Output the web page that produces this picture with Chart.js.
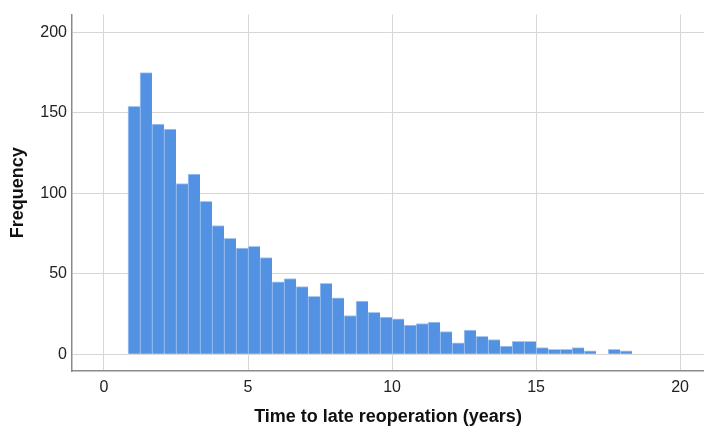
<!DOCTYPE html>
<html>
<head>
<meta charset="utf-8">
<script src="https://cdn.jsdelivr.net/npm/chart.js@4"></script>
<style>
  html, body { margin: 0; padding: 0; background: #fff; }
  #wrap { width: 704px; height: 426px; }
</style>
</head>
<body>
<div id="wrap"><canvas id="histChart" width="704" height="426"></canvas></div>
<script>
// histogram bins: first bin starts at 10 months, each bin is 5 months wide
const binStart = 10 / 12;
const binWidth = 5 / 12;
const frequency = [
    154, 175, 143, 140, 106, 112, 95, 80, 72, 66,
    67, 60, 45, 47, 42, 36, 44, 35, 24, 33,
    26, 23, 22, 18, 19, 20, 14, 7, 15, 11,
    9, 5, 8, 8, 4, 3, 3, 4, 2, 0,
    3, 2
];
const xTicks = [0, 5, 10, 15, 20];
const yTicks = [0, 50, 100, 150, 200];

const points = frequency.map((f, i) => ({ x: binStart + binWidth * (i + 0.5), y: f }));

const fontFamily = "'Liberation Sans', Arial, sans-serif";

new Chart(document.getElementById("histChart"), {
    type: "bar",
    data: {
        datasets: [{
            label: "Frequency",
            data: points,
            backgroundColor: "#5391e3",
            borderColor: "#a9c9f3",
            borderWidth: { left: 1, top: 1, right: 0, bottom: 0 },
            borderSkipped: false,
            barPercentage: 1,
            categoryPercentage: 1
        }]
    },
    options: {
        responsive: false,
        animation: false,
        layout: { padding: { top: 12, right: 0, bottom: 0, left: 0 } },
        plugins: {
            legend: { display: false },
            tooltip: { enabled: false }
        },
        scales: {
            x: {
                type: "linear",
                offset: false,
                min: -1.11,
                max: 20.83,
                afterFit: s => { s.height = 55; },
                afterBuildTicks: s => { s.ticks = xTicks.map(v => ({ value: v })); },
                grid: { color: "#d6d6d6", lineWidth: 1, drawTicks: false, offset: false },
                border: { color: "#8a8a8a", width: 1.5 },
                ticks: { padding: 7, color: "#222", font: { family: fontFamily, size: 16 } },
                title: {
                    display: true,
                    text: "Time to late reoperation (years)",
                    color: "#111",
                    font: { family: fontFamily, size: 18, weight: "bold", lineHeight: 1 },
                    padding: { top: 0, bottom: 0 }
                }
            },
            y: {
                min: -10.49,
                max: 211.1,
                afterFit: s => { s.width = 72; },
                afterBuildTicks: s => { s.ticks = yTicks.map(v => ({ value: v })); },
                grid: { color: "#d6d6d6", lineWidth: 1, drawTicks: false },
                border: { color: "#8a8a8a", width: 1.5 },
                ticks: { padding: 5, color: "#222", font: { family: fontFamily, size: 16 } },
                title: {
                    display: true,
                    text: "Frequency",
                    color: "#111",
                    font: { family: fontFamily, size: 18, weight: "bold", lineHeight: 1 },
                    padding: { top: 9, bottom: 0 }
                }
            }
        }
    }
});
</script>
</body>
</html>
